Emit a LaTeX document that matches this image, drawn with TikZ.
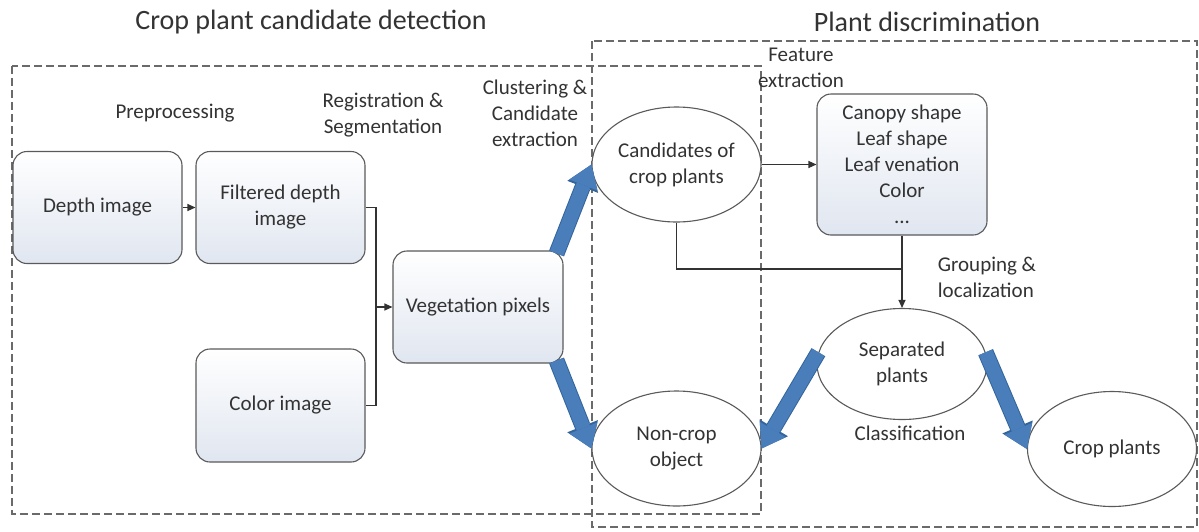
\documentclass[tikz,border=0pt]{standalone}
\usepackage{fontspec}
\setmainfont{Carlito}
\usetikzlibrary{shapes.geometric,arrows.meta,calc}
\definecolor{txt}{HTML}{333333}
\definecolor{edge}{HTML}{5A5A5A}
\definecolor{dashc}{HTML}{6A6A6A}
\definecolor{boxtop}{HTML}{E0E6F0}
\definecolor{ablue}{HTML}{4A7EBB}
\definecolor{ablueedge}{HTML}{33659C}
\begin{document}
\begin{tikzpicture}[x=1pt,y=-1pt,
  every node/.style={text=txt, font=\fontsize{21}{26}\selectfont},
  procbox/.style={draw=edge, line width=1.1pt, rounded corners=14pt,
    minimum width=169pt, minimum height=112pt, inner sep=0pt, align=center,
    top color=white, bottom color=boxtop},
  ellnode/.style={ellipse, draw=edge, line width=1.1pt, fill=white,
    minimum width=169pt, minimum height=115pt, inner sep=0pt, align=center},
  conn/.style={draw=txt, line width=1.1pt},
  tipped/.style={-{Triangle[length=8pt,width=7pt]}},
  dashbox/.style={draw=dashc, line width=1.2pt, dash pattern=on 8pt off 4pt},
  bigarrow/.style={draw=ablue, line width=14pt,
    -{Triangle[length=22pt,width=30pt,line width=0pt]},
    preaction={draw=ablueedge, line width=16pt,
      -{Triangle[length=24pt,width=33pt,line width=0pt]}}},
  lbl/.style={align=center, inner sep=0pt},
  titlelbl/.style={font=\fontsize{28}{34}\selectfont, inner sep=0pt}]
\useasboundingbox (0,0) rectangle (1199,531);
\fill[white] (0,0) rectangle (1199,531);

% group frames
\draw[dashbox] (12,66) rectangle (761,514);
\draw[dashbox] (592,41) rectangle (1197,527);

% titles
\node[titlelbl] (t1) at (311,22) {Crop plant candidate detection};
\node[titlelbl] (t2) at (927,22) {Plant discrimination};

% stage labels
\node[lbl] (lpre) at (175,113) {Preprocessing};
\node[lbl] (lreg) at (383,115) {Registration \&\\Segmentation};
\node[lbl] (lclu) at (535,113) {Clustering \&\\Candidate\\extraction};
\node[lbl] (lfea) at (801,68) {Feature\\extraction};
\node[lbl, align=left] (lgro) at (987,277) {Grouping \&\\localization};
\node[lbl] (lcla) at (910,433) {Classification};

% main nodes
\node[procbox] (depth) at (97.5,207.5) {Depth image};
\node[procbox] (filt) at (280.5,207.5) {Filtered depth\\image};
\node[procbox, minimum height=113pt] (colr) at (280.5,405.5) {Color image};
\node[procbox, minimum width=170pt] (veg) at (478,307) {Vegetation pixels};
\node[ellnode] (cand) at (676.5,164.5) {Candidates of\\crop plants};
\node[procbox, minimum width=170pt, minimum height=141pt] (feat) at (902,164.5)
  {Canopy shape\\Leaf shape\\Leaf venation\\Color\\...};
\node[ellnode, minimum width=170pt, minimum height=111pt] (sep) at (902,364) {Separated\\plants};
\node[ellnode] (nonc) at (676.5,448.5) {Non-crop\\object};
\node[ellnode] (crop) at (1112,449) {Crop plants};

% thin connectors
\draw[conn, tipped] (depth) -- (filt);
\coordinate (jx) at (376,0);
\draw[conn] (filt.east) -- (filt.east -| jx) -- (colr.east -| jx) -- (colr.east);
\draw[conn, tipped] (veg.west -| jx) -- (veg.west);
\draw[conn, tipped] (cand) -- (feat);
\coordinate (jy) at (0,269);
\draw[conn] (cand.south) -- (cand.south |- jy) -- (feat.south |- jy);
\draw[conn, tipped] (feat.south) -- (sep.north);

% block arrows
\draw[bigarrow] ($(veg.north east)+(-7,3)$) -- (cand.west);
\draw[bigarrow] ($(veg.south east)+(-7,-3)$) -- (nonc.west);
\draw[bigarrow] (sep.172) -- (nonc.east);
\draw[bigarrow] (sep.8) -- (crop.west);
\end{tikzpicture}
\end{document}
